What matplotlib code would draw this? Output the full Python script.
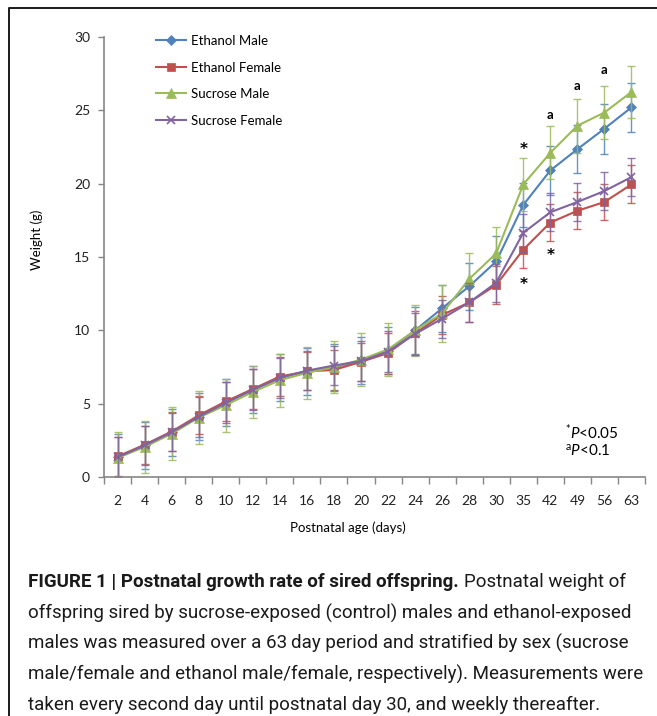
import matplotlib
matplotlib.use("Agg")
import matplotlib.pyplot as plt
from matplotlib.lines import Line2D
import numpy as np

# postnatal day for each measurement (categorical axis, Excel style)
days = [2, 4, 6, 8, 10, 12, 14, 16, 18, 20, 22, 24, 26, 28, 30, 35, 42, 49, 56, 63]

eth_male = [1.35, 2.15, 3.05, 4.1, 5.1, 5.95, 6.8, 7.2, 7.45, 7.95, 8.6, 10.0,
            11.5, 13.0, 14.7, 18.55, 20.9, 22.35, 23.75, 25.2]
eth_male_err = [1.6, 1.6, 1.6, 1.6, 1.6, 1.6, 1.6, 1.6, 1.6, 1.6, 1.6, 1.6,
                1.6, 1.6, 1.7, 1.5, 1.67, 1.65, 1.7, 1.68]

eth_female = [1.4, 2.2, 3.1, 4.2, 5.15, 6.0, 6.85, 7.2, 7.3, 7.85, 8.45, 9.8,
              11.05, 11.9, 13.1, 15.5, 17.35, 18.15, 18.75, 19.95]
eth_female_err = [1.3, 1.3, 1.35, 1.3, 1.35, 1.35, 1.3, 1.3, 1.35, 1.3, 1.4, 1.5,
                  1.3, 1.3, 1.3, 1.25, 1.25, 1.25, 1.25, 1.3]

suc_male = [1.3, 2.05, 2.95, 4.05, 4.9, 5.8, 6.6, 7.1, 7.5, 8.0, 8.7, 10.0,
            11.15, 13.5, 15.25, 19.95, 22.1, 23.95, 24.85, 26.25]
suc_male_err = [1.8, 1.8, 1.8, 1.8, 1.8, 1.8, 1.8, 1.75, 1.8, 1.8, 1.8, 1.75,
                1.95, 1.8, 1.8, 1.8, 1.8, 1.85, 1.8, 1.8]

suc_female = [1.35, 2.15, 3.05, 4.1, 5.05, 5.95, 6.75, 7.25, 7.6, 7.9, 8.55, 9.75,
              10.8, 11.9, 13.25, 16.65, 18.05, 18.75, 19.5, 20.45]
suc_female_err = [1.35, 1.3, 1.3, 1.35, 1.4, 1.4, 1.35, 1.35, 1.35, 1.35, 1.4, 1.4,
                  1.3, 1.3, 1.3, 1.3, 1.3, 1.3, 1.3, 1.3]

# significance marks: (day, y position, symbol)
sig_marks = [(35, 22.6, "*"), (42, 24.66, "a"), (49, 26.66, "a"), (56, 27.75, "a"),
             (35, 13.4, "*"), (42, 15.36, "*")]

plt.rcParams['font.family'] = ['Lato', 'DejaVu Sans']
plt.rcParams['mathtext.fontset'] = 'custom'
plt.rcParams['mathtext.rm'] = 'Lato'
plt.rcParams['mathtext.it'] = 'Lato:italic'

W, H = 657, 716
fig = plt.figure(figsize=(W / 100, H / 100), dpi=100)
ax = fig.add_axes([104 / W, 1 - 477 / H, (645 - 104) / W, (477 - 37) / H])

x = np.arange(len(days)) + 0.5

series = [
    ("Ethanol Male", eth_male, eth_male_err, "#4F81BD", "D", 5),
    ("Ethanol Female", eth_female, eth_female_err, "#C0504D", "s", 6),
    ("Sucrose Male", suc_male, suc_male_err, "#9BBB59", "^", 6.5),
    ("Sucrose Female", suc_female, suc_female_err, "#8064A2", "x", 5.5),
]

handles = []
for name, vals, errs, col, mk, ms in series:
    ax.errorbar(x, vals, yerr=errs, fmt="none", ecolor=col, elinewidth=1.0,
                capsize=3, capthick=1.0, alpha=0.85)
    ln, = ax.plot(x, vals, color=col, lw=1.5, marker=mk, markersize=ms,
                  markeredgewidth=1.2 if mk == "x" else 0.5, label=name)
    handles.append(ln)

for d, yv, s in sig_marks:
    if s == "*":
        ax.text(days.index(d) + 0.5, yv - 0.25, s, ha="center", va="center",
                fontsize=11, fontweight="bold", family="DejaVu Sans", color="black")
    else:
        ax.text(days.index(d) + 0.5, yv, s, ha="center", va="center",
                fontsize=9.5, fontweight="bold", color="black")

ax.set_xlim(0, len(days))
ax.set_ylim(0, 30)
ax.set_yticks(range(0, 31, 5))
ax.set_xticks(range(0, len(days) + 1))
ax.set_xticklabels([])
ax.set_xticks(x, minor=True)
ax.set_xticklabels([str(d) for d in days], minor=True)
ax.tick_params(axis="x", which="minor", length=0, pad=13, labelsize=10, colors="#222222")
ax.tick_params(axis="x", which="major", length=5, color="#868686", width=1)
ax.tick_params(axis="y", length=4, color="#868686", width=1, labelsize=10,
               labelcolor="#222222", pad=6)
for sp in ["top", "right"]:
    ax.spines[sp].set_visible(False)
for sp in ["left", "bottom"]:
    ax.spines[sp].set_color("#868686")
    ax.spines[sp].set_linewidth(1.2)

fig.text(37 / W, 1 - 240 / H, "Weight (g)", rotation=90, ha="center", va="center", fontsize=9.5)
fig.text(348 / W, 1 - 528 / H, "Postnatal age (days)", ha="center", va="center", fontsize=9.5)

ax.legend(handles=handles, loc="upper left", bbox_to_anchor=(156 / W, 1 - 35 / H),
          bbox_transform=fig.transFigure, frameon=False, fontsize=9.5,
          handlelength=2.3, handletextpad=0.35, labelspacing=1.1, borderpad=0,
          borderaxespad=0)

fig.text(565 / W, 1 - 432 / H, r"$^{*}\mathit{P}$<0.05", fontsize=11, ha="left", va="center")
fig.text(565 / W, 1 - 451 / H, r"$^{\mathrm{a}}\mathit{P}$<0.1", fontsize=11, ha="left", va="center")

# outer frame (left and top edges)
fig.add_artist(Line2D([9 / W, 9 / W, 1.0], [0, 1 - 8 / H, 1 - 8 / H],
                      transform=fig.transFigure, color="#1a1a1a", lw=1.4))

# caption
cap_font = ['Roboto', 'DejaVu Sans']
lines = [
    "offspring sired by sucrose-exposed (control) males and ethanol-exposed",
    "males was measured over a 63\u2009day period and stratified by sex (sucrose",
    "male/female and ethanol male/female, respectively). Measurements were",
    "taken every second day until postnatal day 30, and weekly thereafter.",
]
cap_x = 28 / W
rend = fig.canvas.get_renderer()
widest = 0
for ln in lines:
    probe = fig.text(0, 0, ln, fontsize=13, family=cap_font)
    widest = max(widest, probe.get_window_extent(renderer=rend).width)
    probe.remove()
cap_fs = 13 * 614 / widest

t0 = fig.text(cap_x, 1 - 582 / H, "FIGURE 1 | Postnatal growth rate of sired offspring.",
              fontsize=cap_fs, fontweight="bold", family=cap_font, va="center", color="#1a1a1a")
bb = t0.get_window_extent(renderer=rend)
fig.text(bb.x1 / W + 5 / W, 1 - 582 / H, "Postnatal weight of", fontsize=cap_fs,
         family=cap_font, va="center", color="#1a1a1a")
for i, ln in enumerate(lines):
    fig.text(cap_x, 1 - (613 + 30.5 * i) / H, ln, fontsize=cap_fs, family=cap_font,
             va="center", color="#1a1a1a")

fig.savefig("out.png", dpi=100)
